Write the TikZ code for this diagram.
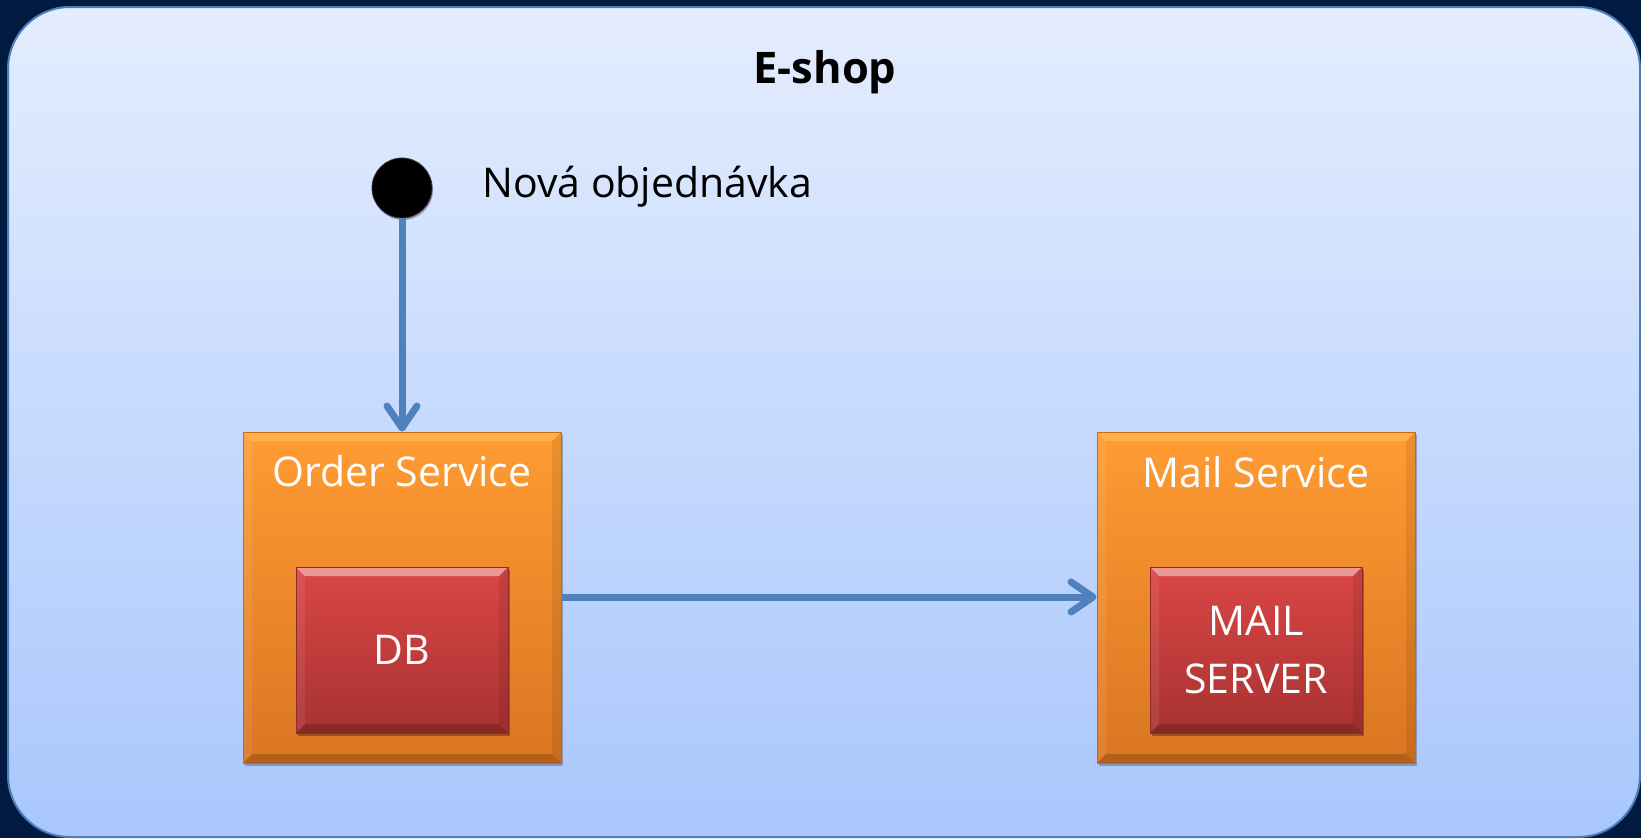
\documentclass[tikz,border=0pt]{standalone}
\usepackage{fontspec}
\setmainfont{Open Sans}
\usetikzlibrary{arrows.meta,shadows}

\definecolor{navy}{HTML}{001A40}
\definecolor{panelTop}{HTML}{E4EDFE}
\definecolor{panelBot}{HTML}{A9C7FD}
\definecolor{panelEdge}{HTML}{4A7EBB}
\definecolor{flow}{HTML}{4F81BD}
\definecolor{orTop}{HTML}{FF9C33}
\definecolor{orBot}{HTML}{DA7522}
\definecolor{orEdge}{HTML}{C8681C}
\definecolor{orGlow}{HTML}{FFD060}
\definecolor{rdTop}{HTML}{DA4645}
\definecolor{rdBot}{HTML}{A83232}
\definecolor{rdEdge}{HTML}{8E2A2A}

\tikzset{
  x=1pt, y=-1pt,
  bevel/.style={path picture={
    \fill[#1,opacity=.45]
      (path picture bounding box.north west) -- (path picture bounding box.north east)
      -- ([shift={(-9,9)}]path picture bounding box.north east)
      -- ([shift={(9,9)}]path picture bounding box.north west) -- cycle;
    \fill[black,opacity=.18]
      (path picture bounding box.south west) -- (path picture bounding box.south east)
      -- ([shift={(-9,-9)}]path picture bounding box.south east)
      -- ([shift={(9,-9)}]path picture bounding box.south west) -- cycle;
    \fill[black,opacity=.08]
      (path picture bounding box.north east) -- (path picture bounding box.south east)
      -- ([shift={(-9,-9)}]path picture bounding box.south east)
      -- ([shift={(-9,9)}]path picture bounding box.north east) -- cycle;
    \fill[white,opacity=.08]
      (path picture bounding box.north west) -- (path picture bounding box.south west)
      -- ([shift={(9,-9)}]path picture bounding box.south west)
      -- ([shift={(9,9)}]path picture bounding box.north west) -- cycle;
  }},
  bodyfont/.style={font=\fontsize{41}{58}\selectfont},
  svcbox/.style={rectangle, draw=orEdge, line width=1pt, top color=orTop, bottom color=orBot,
    minimum width=318pt, minimum height=331pt, inner sep=0pt, bevel=orGlow,
    drop shadow={shadow xshift=2pt, shadow yshift=-3pt, opacity=.25, fill=black}},
  storebox/.style={rectangle, draw=rdEdge, line width=1pt, top color=rdTop, bottom color=rdBot,
    minimum width=212pt, minimum height=166pt, inner sep=0pt, bevel=white,
    text=white, bodyfont, align=center,
    drop shadow={shadow xshift=2pt, shadow yshift=-3pt, opacity=.3, fill=black}},
  svctitle/.style={anchor=base, text=white, bodyfont, inner sep=0pt},
  flowarrow/.style={draw=flow, line width=7pt,
    -{Straight Barb[length=22pt, width=30pt, line cap=round, line join=round]}},
  startdot/.style={circle, fill=black, draw=black!80, line width=0.8pt, minimum size=60pt, inner sep=0pt,
    drop shadow={shadow xshift=1pt, shadow yshift=-2pt, opacity=.3, fill=black}},
}

\begin{document}
\begin{tikzpicture}
  % page and panel
  \fill[navy] (0,0) rectangle (1641,838);
  \useasboundingbox (0,0) rectangle (1641,838);
  \shade[top color=panelTop, bottom color=panelBot, draw=panelEdge, line width=2pt,
    rounded corners=62pt] (8,7) rectangle (1640,837);

  % title
  \node[anchor=base, inner sep=0pt, font=\fontsize{43.5}{58}\selectfont\bfseries] (title) at (825,83) {E-shop};

  % start state
  \node[startdot] (start) at (402,188) {};
  \node[anchor=base west, inner sep=0pt, bodyfont] (startlbl) at (482,197) {Nová objednávka};

  % services
  \node[svcbox] (order) at (402,597.5) {};
  \node[svctitle] (ordertitle) at (402,486) {Order Service};
  \node[storebox] (db) at (402,650) {DB};

  \node[svcbox] (mail) at (1256,597.5) {};
  \node[svctitle] (mailtitle) at (1256,487) {Mail Service};
  \node[storebox] (mailsrv) at (1256,650) {MAIL\\SERVER};

  % flows
  \draw[flowarrow] (start.south) -- (order.north);
  \draw[flowarrow] (order.east |- 0,597) -- (mail.west |- 0,597);
\end{tikzpicture}
\end{document}
